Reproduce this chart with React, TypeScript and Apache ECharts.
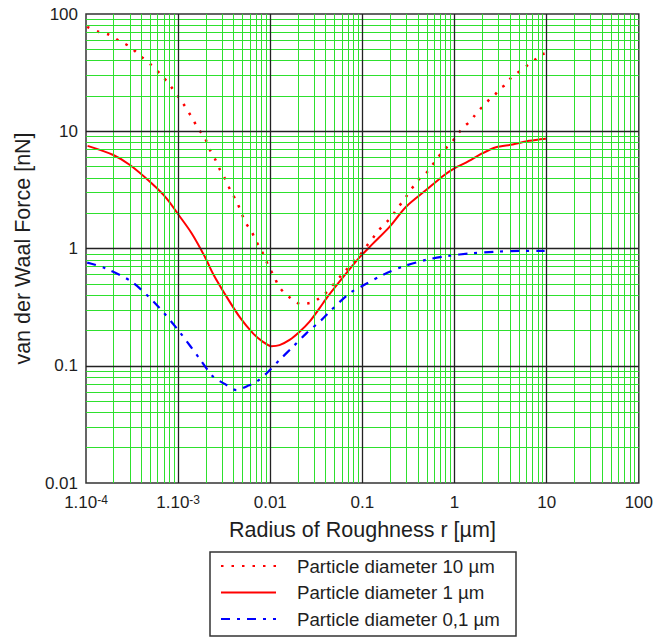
import React, { useEffect, useRef } from 'react';
import * as echarts from 'echarts';

const seriesNames = ['Particle diameter 10 µm', 'Particle diameter 1 µm', 'Particle diameter 0,1 µm'];

// [radius r (µm), force (nN)]
const diameter10: [number, number][] = [
  [1.03e-4, 77.5], [1.36e-4, 70.6], [1.77e-4, 66.6], [2.3e-4, 59], [3.0e-4, 52.6],
  [3.87e-4, 44], [5.06e-4, 37], [6.6e-4, 30], [8.28e-4, 24.3], [1.0e-3, 19.7],
  [1.2e-3, 16.1], [1.4e-3, 13.2], [1.63e-3, 10.7], [1.96e-3, 8.7], [2.19e-3, 7.06],
  [2.54e-3, 5.7], [2.85e-3, 4.67], [3.31e-3, 3.79], [3.72e-3, 3.09], [4.33e-3, 2.51],
  [4.82e-3, 2.04], [5.41e-3, 1.66], [6.31e-3, 1.38], [7.0e-3, 1.16], [7.94e-3, 0.98],
  [8.85e-3, 0.81], [9.84e-3, 0.68], [1.11e-2, 0.57], [1.23e-2, 0.48], [1.41e-2, 0.42],
  [1.64e-2, 0.38], [1.88e-2, 0.35], [2.19e-2, 0.334], [2.54e-2, 0.34], [2.93e-2, 0.35],
  [3.37e-2, 0.375], [3.92e-2, 0.41], [0.06, 0.6], [0.097, 0.91], [0.119, 1.13],
  [0.133, 1.26], [0.149, 1.42], [0.169, 1.58], [0.193, 1.75], [0.217, 1.97],
  [0.242, 2.23], [0.274, 2.51], [0.303, 2.82], [0.338, 3.2], [0.379, 3.57],
  [0.423, 4.0], [0.491, 4.38], [0.615, 5.55], [0.776, 7.0], [0.893, 7.7],
  [1.01, 8.75], [1.11, 9.7], [1.26, 10.9], [1.47, 12.1], [1.64, 13.5],
  [1.86, 15.2], [2.12, 16.8], [2.4, 18.7], [2.75, 20.5], [3.11, 23.1],
  [3.61, 25.1], [4.06, 28.3], [4.71, 31.2], [5.43, 33.5], [6.31, 37],
  [7.38, 40.5], [8.51, 44.5], [9.5, 46],
];

const diameter1: [number, number][] = [
  [1.04e-4, 7.5], [1.98e-4, 6.27], [3.0e-4, 5.15], [5.15e-4, 3.6], [7.48e-4, 2.68],
  [1.0e-3, 1.96], [1.4e-3, 1.35], [1.95e-3, 0.85], [2.39e-3, 0.61], [3.34e-3, 0.39],
  [4.66e-3, 0.26], [6.5e-3, 0.189], [8.34e-3, 0.16], [1.03e-2, 0.147], [1.26e-2, 0.15],
  [1.62e-2, 0.166], [2.08e-2, 0.195], [2.67e-2, 0.238], [3.43e-2, 0.31], [4.22e-2, 0.39],
  [0.063, 0.58], [0.093, 0.84], [0.13, 1.1], [0.197, 1.53], [0.298, 2.27],
  [0.491, 3.15], [0.776, 4.24], [0.995, 4.83], [1.33, 5.4], [2.02, 6.5],
  [2.82, 7.3], [4.27, 7.7], [6.46, 8.3], [9.8, 8.65],
];

const diameter01: [number, number][] = [
  [1.03e-4, 0.757], [1.61e-4, 0.68], [3.13e-4, 0.52], [6.07e-4, 0.32], [1.06e-3, 0.19],
  [1.75e-3, 0.112], [2.39e-3, 0.081], [3.21e-3, 0.07], [4.3e-3, 0.062], [5.6e-3, 0.067],
  [7.08e-3, 0.073], [9.08e-3, 0.086], [1.26e-2, 0.112], [1.76e-2, 0.145], [2.46e-2, 0.189],
  [3.58e-2, 0.245], [4.4e-2, 0.289], [7.24e-2, 0.414], [0.11, 0.5], [0.166, 0.594],
  [0.274, 0.7], [0.491, 0.8], [0.841, 0.863], [1.51, 0.91], [2.82, 0.94],
  [5.47, 0.953], [8.65, 0.953], [9.5, 0.955],
];

const xTickLabels = ['1.10{sup|-4}', '1.10{sup|-3}', '0.01', '0.1', '1', '10', '100']; // exponents -4..2
const yTickLabels = ['0.01', '0.1', '1', '10', '100']; // exponents -2..2
const xDecades = [1e-4, 1e-3, 1e-2, 1e-1, 1, 10];
const yDecades = [1e-2, 1e-1, 1, 10];
const minorSteps = [2, 3, 4, 5, 6, 7, 8, 9];
const xMajorInner = [1e-3, 1e-2, 1e-1, 1, 10];
const yMajorInner = [1e-1, 1, 10];

const FONT = '"Liberation Sans", Arial, sans-serif';
const TEXT = '#1e1e1e';

export default function App() {
  const ref = useRef<HTMLDivElement>(null);
  useEffect(() => {
    document.body.style.margin = '0';
    const chart = echarts.init(ref.current!, null, { renderer: 'svg' });
    const minorX: number[] = [];
    xDecades.forEach((d) => minorSteps.forEach((k) => minorX.push(+(d * k).toPrecision(6))));
    const minorY: number[] = [];
    yDecades.forEach((d) => minorSteps.forEach((k) => minorY.push(+(d * k).toPrecision(6))));

    chart.setOption({
      animation: false,
      backgroundColor: '#fff',
      textStyle: { fontFamily: FONT },
      grid: {
        left: 86, right: 16, top: 14, bottom: 154,
        show: true, borderColor: '#333', borderWidth: 1.5, backgroundColor: '#fff',
      },
      xAxis: {
        type: 'log', logBase: 10, min: 1e-4, max: 100,
        name: 'Radius of Roughness r [µm]', nameLocation: 'middle', nameGap: 36,
        nameTextStyle: { fontSize: 21.5, color: TEXT, fontFamily: FONT },
        axisLine: { show: false }, axisTick: { show: false }, splitLine: { show: false },
        axisLabel: {
          fontSize: 17, color: TEXT, fontFamily: FONT, margin: 11,
          showMinLabel: true, showMaxLabel: true,
          formatter: (v: number) => xTickLabels[Math.round(Math.log10(v)) + 4] ?? '',
          rich: { sup: { fontSize: 12, verticalAlign: 'top', color: TEXT, fontFamily: FONT } },
        },
      },
      yAxis: {
        type: 'log', logBase: 10, min: 0.01, max: 100,
        name: 'van der Waal Force [nN]', nameLocation: 'middle', nameGap: 50,
        nameTextStyle: { fontSize: 21.5, color: TEXT, fontFamily: FONT },
        axisLine: { show: false }, axisTick: { show: false }, splitLine: { show: false },
        axisLabel: {
          fontSize: 17, color: TEXT, fontFamily: FONT, margin: 8,
          showMinLabel: true, showMaxLabel: true,
          formatter: (v: number) => yTickLabels[Math.round(Math.log10(v)) + 2] ?? '',
        },
      },
      legend: {
        orient: 'vertical', left: 220, top: 556, padding: 0,
        itemWidth: 55, itemHeight: 14, itemGap: 6.5, selectedMode: false,
        itemStyle: { opacity: 0 },
        textStyle: { fontSize: 18.7, color: TEXT, fontFamily: FONT, lineHeight: 20, padding: [0, 0, 0, 16] },
        data: seriesNames,
      },
      graphic: [
        {
          type: 'rect', x: 210, y: 552, silent: true,
          shape: { x: 0, y: 0, width: 306, height: 84 },
          style: { fill: 'none', stroke: '#333', lineWidth: 1.5 },
        },
      ],
      series: [
        {
          type: 'line', data: [], z: 1, silent: true,
          markLine: {
            silent: true, symbol: ['none', 'none'], label: { show: false }, animation: false,
            precision: 12,
            lineStyle: { color: '#2ee02e', width: 1, type: 'solid' },
            emphasis: { disabled: true },
            data: [...minorX.map((v) => ({ xAxis: v })), ...minorY.map((v) => ({ yAxis: v }))],
          },
        },
        {
          type: 'line', data: [], z: 2, silent: true,
          markLine: {
            silent: true, symbol: ['none', 'none'], label: { show: false }, animation: false,
            precision: 12,
            lineStyle: { color: '#222', width: 1.3, type: 'solid' },
            emphasis: { disabled: true },
            data: [...xMajorInner.map((v) => ({ xAxis: v })), ...yMajorInner.map((v) => ({ yAxis: v }))],
          },
        },
        {
          name: seriesNames[0], type: 'line', data: diameter10, z: 3,
          showSymbol: false, symbol: 'none', smooth: 0.3,
          lineStyle: { color: '#ff0000', width: 2.5, type: [2.5, 8] },
          itemStyle: { color: '#ff0000' },
        },
        {
          name: seriesNames[1], type: 'line', data: diameter1, z: 4,
          showSymbol: false, symbol: 'none', smooth: 0.3,
          lineStyle: { color: '#ff0000', width: 2 },
          itemStyle: { color: '#ff0000' },
        },
        {
          name: seriesNames[2], type: 'line', data: diameter01, z: 5,
          showSymbol: false, symbol: 'none', smooth: 0.3,
          lineStyle: { color: '#0000ff', width: 2.2, type: [9, 7, 3, 7] },
          itemStyle: { color: '#0000ff' },
        },
      ],
    });
    return () => chart.dispose();
  }, []);
  return (
    <div
      ref={ref}
      style={{ position: 'fixed', left: 0, top: 0, width: 656, height: 637, background: '#fff' }}
    />
  );
}
